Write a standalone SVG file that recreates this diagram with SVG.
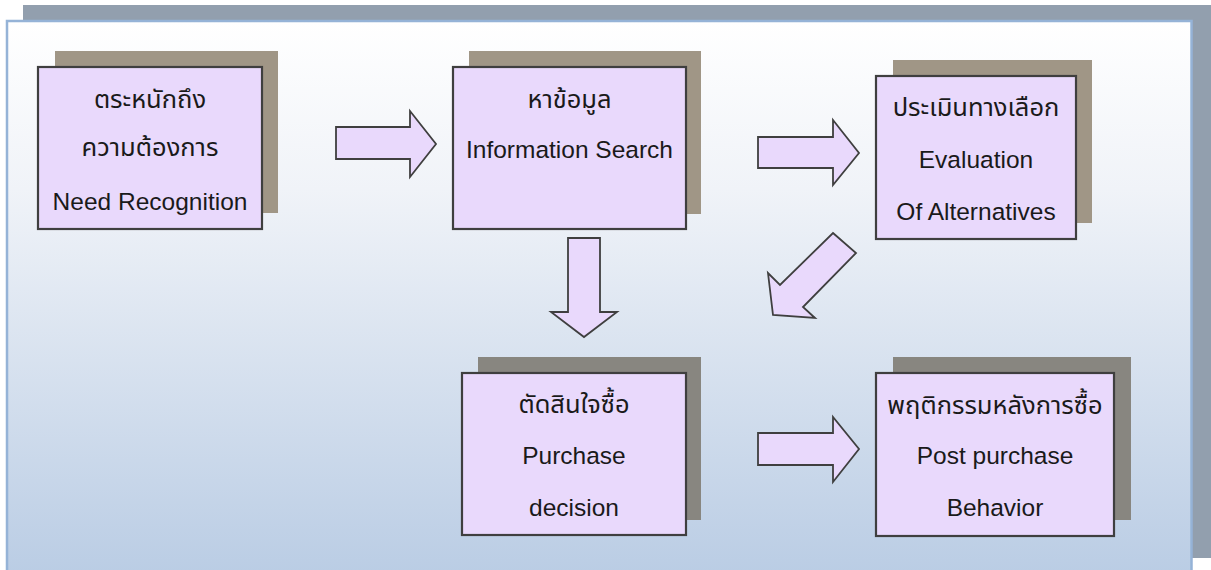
<svg xmlns="http://www.w3.org/2000/svg" width="1211" height="570" viewBox="0 0 1211 570">
<defs>
<linearGradient id="bg" x1="0" y1="0" x2="0" y2="1">
<stop offset="0" stop-color="#ffffff"/>
<stop offset="0.3" stop-color="#f0f3f8"/>
<stop offset="1" stop-color="#b9cce4"/>
</linearGradient>
</defs>
<style>
.box{fill:#e9d9fc;stroke:#3f3f3f;stroke-width:2.2}
.shT{fill:#a09686}
.shB{fill:#888680}
.arr{fill:#e9d9fc;stroke:#3f3f3f;stroke-width:1.8;stroke-linejoin:miter}
text{font-family:"Liberation Sans","Noto Sans Thai","Noto Sans",sans-serif;font-size:24.5px;fill:#1a1a1a;text-anchor:middle}
text.th{font-size:25.5px}
</style>
<g id="background">
<rect x="23" y="5" width="1188" height="553" fill="#929fae"/>
<rect x="7" y="21" width="1184.5" height="560" fill="url(#bg)" stroke="#95b3d7" stroke-width="2.5"/>
</g>
<g id="connectors">
<polygon class="arr" points="336,127 410,127 410,111 436,144 410,177 410,159 336,159"/>
<polygon class="arr" points="758,137 833,137 833,120 859,153 833,185 833,168 758,168"/>
<polygon class="arr" points="758,433 833,433 833,417 859,449 833,482 833,465 758,465"/>
<polygon class="arr" points="568,238 600,238 600,312 617,312 584,337 551,312 568,312"/>
<polygon class="arr" points="833,233 856,253 803,307 815,318 773,315 768,273 780,285"/>
</g>
<g id="node1">
<rect class="shT" x="55" y="51" width="223" height="162"/>
<rect class="box" x="38" y="67" width="224" height="162"/>
<text class="th" x="150" y="108">ตระหนักถึง</text>
<text class="th" x="150" y="156">ความต้องการ</text>
<text x="150" y="210">Need Recognition</text>
</g>
<g id="node2">
<rect class="shT" x="469" y="51" width="232" height="163"/>
<rect class="box" x="453" y="67" width="233" height="162"/>
<text class="th" x="569.5" y="108">หาข้อมูล</text>
<text x="569.5" y="158">Information Search</text>
</g>
<g id="node3">
<rect class="shT" x="893" y="60" width="199" height="163"/>
<rect class="box" x="876" y="76" width="200" height="163"/>
<text class="th" x="976" y="116">ประเมินทางเลือก</text>
<text x="976" y="168">Evaluation</text>
<text x="976" y="220">Of Alternatives</text>
</g>
<g id="node4">
<rect class="shB" x="478" y="357" width="223" height="163"/>
<rect class="box" x="462" y="373" width="224" height="162"/>
<text class="th" x="574" y="413">ตัดสินใจซื้อ</text>
<text x="574" y="464">Purchase</text>
<text x="574" y="516">decision</text>
</g>
<g id="node5">
<rect class="shB" x="893" y="357" width="238" height="163"/>
<rect class="box" x="876" y="373" width="238" height="163"/>
<text class="th" x="995" y="414">พฤติกรรมหลังการซื้อ</text>
<text x="995" y="464">Post purchase</text>
<text x="995" y="516">Behavior</text>
</g>
</svg>
